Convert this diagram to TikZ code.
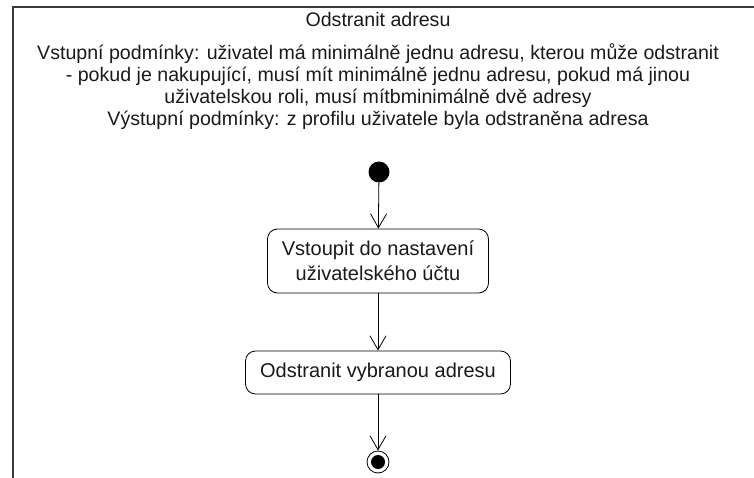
\documentclass[tikz,border=0pt]{standalone}
\usepackage{fontspec}
\setmainfont{Liberation Sans}
\usepackage{tikz}
\usetikzlibrary{arrows.meta, positioning}
\definecolor{framegray}{HTML}{3A3A3A}
\definecolor{inktext}{HTML}{1A1A1A}
\tikzset{
  bigtext/.style={font=\fontsize{20}{25}\selectfont, text=inktext},
  tighttext/.style={font=\fontsize{19.6}{22}\selectfont, text=inktext},
  action/.style={draw=black, rounded corners=10pt, line width=0.8pt, align=center, bigtext, inner sep=0pt},
  flow/.style={-{Straight Barb[length=14pt, width=16pt]}, line width=0.8pt},
}

\begin{document}
\begin{tikzpicture}[x=1pt, y=-1pt]
    \useasboundingbox (0,0) rectangle (754,478);

    % Frame of the activity
    \draw[framegray, line width=1.5pt] (754,7) -- (13,7) -- (13,478);
    \node[tighttext] (title) at (378,19) {Odstranit adresu};
    \node[tighttext, align=center] (conditions) at (378,87) {Vstupní podmínky: uživatel má minimálně jednu adresu, kterou může odstranit\\- pokud je nakupující, musí mít minimálně jednu adresu, pokud má jinou\\uživatelskou roli, musí mítbminimálně dvě adresy\\Výstupní podmínky: z profilu uživatele byla odstraněna adresa};

    % Start and end
    \node[circle, fill=black, minimum size=21pt, inner sep=0pt] (initial) at (379,172) {};
    \node[circle, draw=black, line width=0.8pt, minimum size=22pt, inner sep=0pt] (final) at (378,462) {};
    \node[circle, fill=black, minimum size=14pt, inner sep=0pt] (finaldot) at (final) {};

    % Actions
    \node[action, minimum width=221pt, minimum height=64pt] (settings) at (378,261) {Vstoupit do nastavení\\uživatelského účtu};
    \node[action, minimum width=265pt, minimum height=43pt] (remove) at (378,372.5) {Odstranit vybranou adresu};

    \draw[flow] (initial) -- (settings);
    \draw[flow] (settings) -- (remove);
    \draw[flow] (remove) -- (final);
\end{tikzpicture}
\end{document}
